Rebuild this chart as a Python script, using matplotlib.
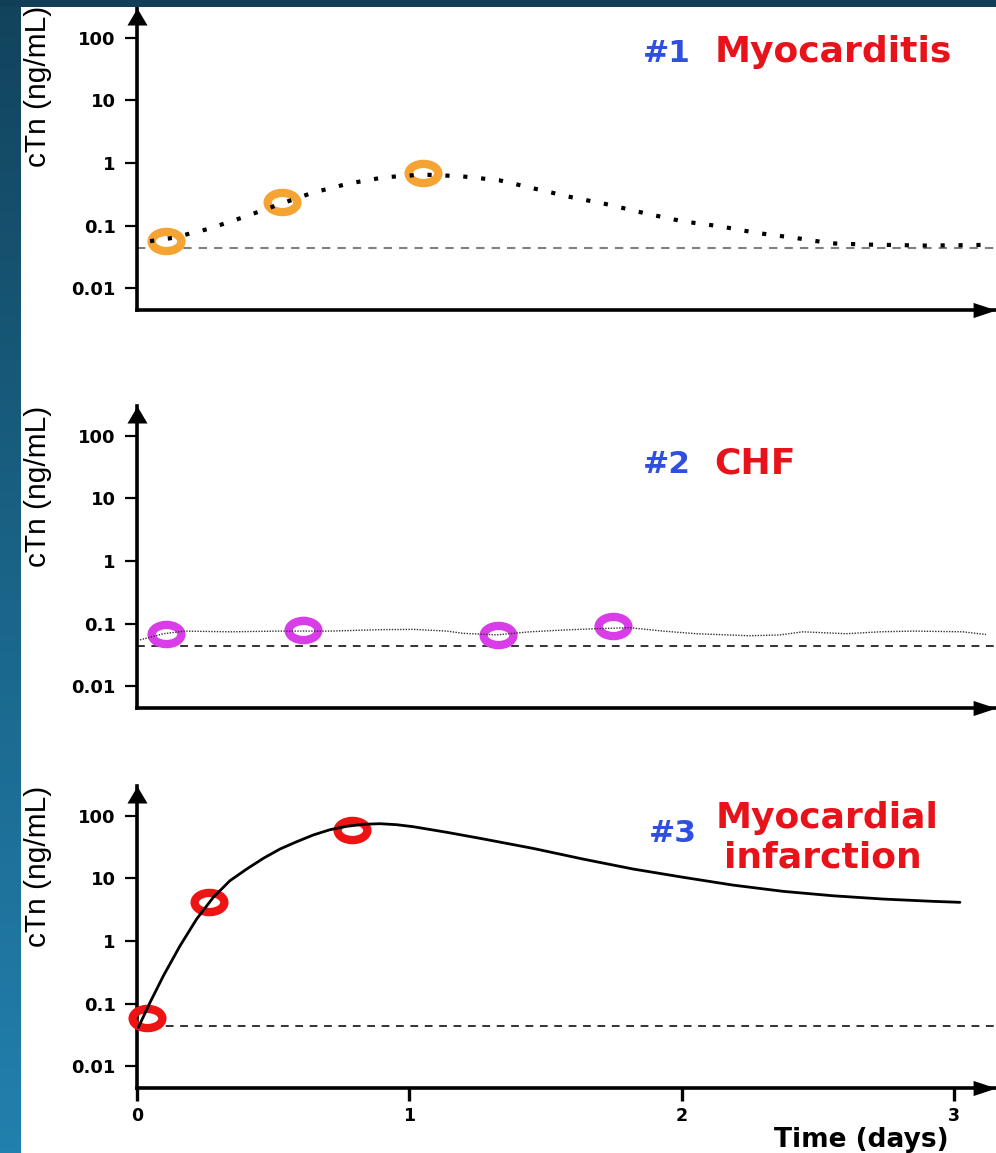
import matplotlib
matplotlib.use('Agg')
import matplotlib.pyplot as plt
import numpy as np
from matplotlib.path import Path
from matplotlib.transforms import Affine2D
from matplotlib.ticker import NullLocator, FixedLocator, FixedFormatter
from matplotlib.colors import LinearSegmentedColormap
from matplotlib.font_manager import FontProperties

# ---------------- data ----------------
y_ticks = [0.01, 0.1, 1, 10, 100]
y_tick_labels = ['0.01', '0.1', '1', '10', '100']
x_ticks = [0, 1, 2, 3]
x_tick_labels = ['0', '1', '2', '3']
upper_ref_limit = [0.044, 0.044, 0.044]

# Panel 1: myocarditis
myo_pts_x = [0.107, 0.532, 1.052]
myo_pts_y = [0.0576, 0.236, 0.695]
myo_line_x = [0.049, 0.132, 0.263, 0.391, 0.517, 0.644, 0.777, 0.909, 1.050,
              1.190, 1.330, 1.464, 1.597, 1.733, 1.869, 2.004, 2.141, 2.276,
              2.416, 2.550, 2.691, 2.900, 3.109]
myo_line_y = [0.0565, 0.0637, 0.0886, 0.136, 0.214, 0.333, 0.469, 0.591, 0.653,
              0.614, 0.530, 0.386, 0.283, 0.216, 0.156, 0.117, 0.0975, 0.0764,
              0.0637, 0.0521, 0.0497, 0.048, 0.0492]

# Panel 2: CHF
chf_pts_x = [0.108, 0.611, 1.327, 1.748]
chf_pts_y = [0.0693, 0.0793, 0.065, 0.0919]
chf_line_x = [0.012, 0.098, 0.177, 0.342, 0.526, 0.709, 0.893, 1.014, 1.138,
              1.197, 1.321, 1.443, 1.564, 1.685, 1.810, 1.931, 2.053, 2.250,
              2.361, 2.445, 2.603, 2.728, 2.849, 3.032, 3.117]
chf_line_y = [0.055, 0.069, 0.076, 0.074, 0.076, 0.076, 0.080, 0.081, 0.076,
              0.070, 0.066, 0.074, 0.079, 0.083, 0.086, 0.076, 0.069, 0.064,
              0.066, 0.074, 0.069, 0.074, 0.076, 0.074, 0.067]

# Panel 3: myocardial infarction
mi_pts_x = [0.039, 0.265, 0.791]
mi_pts_y = [0.059, 4.25, 59.7]
mi_line_x = [0.006, 0.049, 0.098, 0.159, 0.220, 0.281, 0.342, 0.404, 0.465,
             0.526, 0.587, 0.648, 0.709, 0.771, 0.832, 0.893, 0.954, 1.015,
             1.138, 1.260, 1.454, 1.638, 1.821, 2.005, 2.188, 2.372, 2.555,
             2.739, 2.923, 3.021]
mi_line_y = [0.0417, 0.1045, 0.278, 0.837, 2.24, 4.97, 9.16, 14.1, 20.9,
             29.4, 38.4, 49.2, 59.7, 67.7, 72.9, 74.5, 71.8, 66.7,
             54.3, 43.5, 30.1, 20.3, 14.1, 10.4, 7.8, 6.2, 5.27,
             4.67, 4.29, 4.14]

y_label = 'cTn (ng/mL)'
x_label = 'Time (days)'

# ---------------- layout ----------------
W, H = 996, 1153
fig = plt.figure(figsize=(W / 100, H / 100), dpi=100)
fig.patch.set_facecolor('white')


def fx(px):
    return px / W


def fy(py):
    return 1 - py / H


# left gradient band and top band
band = fig.add_axes([0, 0, fx(20), 1], zorder=-5)
grad = np.linspace(0, 1, 256).reshape(-1, 1)
cmap = LinearSegmentedColormap.from_list('band', ['#12435C', '#1A6488', '#2280AE'])
band.imshow(grad, aspect='auto', cmap=cmap, extent=[0, 1, 0, 1], origin='upper')
band.set_axis_off()
top = fig.add_axes([0, fy(7), 1, 7 / H], zorder=10)
top.set_facecolor('#123F57')
top.set_xticks([]); top.set_yticks([])
for s in top.spines.values():
    s.set_visible(False)

# arrow head markers (tip at origin)
up_arrow = Path([(0, 0), (-0.59, -1), (0.59, -1), (0, 0)],
                [Path.MOVETO, Path.LINETO, Path.LINETO, Path.CLOSEPOLY])
right_arrow = Path([(0, 0), (-1, 0.33), (-1, -0.33), (0, 0)],
                   [Path.MOVETO, Path.LINETO, Path.LINETO, Path.CLOSEPOLY])
ellipse = Path.unit_circle().transformed(Affine2D().scale(1.55, 1.0))

x0_px = 136.7
px_per_day = 272.5
ylo, yhi = 10 ** -2.347, 10 ** 2.474
axes_h_px = 302
bottoms_px = [310, 708, 1088]
ylabel_bottom_px = [167, 567, 947]

panels = [
    dict(px=myo_pts_x, py=myo_pts_y, lx=myo_line_x, ly=myo_line_y, color='#F5A332',
         ls=(0, (1, 3.3)), lw=3.0, lc='black', dash_c='#808080', dash_lw=1.5),
    dict(px=chf_pts_x, py=chf_pts_y, lx=chf_line_x, ly=chf_line_y, color='#D83DE8',
         ls=(0, (1, 1)), lw=1.0, lc='#333333', dash_c='#333333', dash_lw=1.4),
    dict(px=mi_pts_x, py=mi_pts_y, lx=mi_line_x, ly=mi_line_y, color='#EE1414',
         ls='-', lw=2.0, lc='black', dash_c='#333333', dash_lw=1.4),
]

tick_font = dict(family='DejaVu Sans', weight='bold', size=13)

for i, p in enumerate(panels):
    b = bottoms_px[i]
    ax = fig.add_axes([fx(x0_px), fy(b), 1 - fx(x0_px), axes_h_px / H])
    ax.set_facecolor('none')
    ax.set_yscale('log')
    ax.set_ylim(ylo, yhi)
    ax.set_xlim(0, (W - x0_px) / px_per_day)
    for s in ['top', 'right']:
        ax.spines[s].set_visible(False)
    for s in ['left', 'bottom']:
        ax.spines[s].set_linewidth(2.6)
        ax.spines[s].set_color('black')
    ax.yaxis.set_major_locator(FixedLocator(y_ticks))
    ax.yaxis.set_major_formatter(FixedFormatter(y_tick_labels))
    ax.yaxis.set_minor_locator(NullLocator())
    ax.tick_params(axis='y', length=8.6, width=1.6, pad=6.5, colors='black')
    for lab in ax.get_yticklabels():
        lab.set_fontproperties(FontProperties(**tick_font))
    if i == 2:
        ax.xaxis.set_major_locator(FixedLocator(x_ticks))
        ax.xaxis.set_major_formatter(FixedFormatter(x_tick_labels))
        ax.tick_params(axis='x', length=9, width=2.4, pad=5)
        for lab in ax.get_xticklabels():
            lab.set_fontproperties(FontProperties(family='DejaVu Sans',
                                                  weight='bold', size=12.5))
    else:
        ax.set_xticks([])
    ax.xaxis.set_minor_locator(NullLocator())

    # reference limit (dashed)
    ax.axhline(upper_ref_limit[i], color=p['dash_c'], lw=p['dash_lw'],
               ls=(0, (4.0, 3.4)), zorder=1)
    # circles
    ax.plot(p['px'], p['py'], ls='none', marker=ellipse, ms=21.4, mew=6,
            mfc='none', mec=p['color'], zorder=3, clip_on=False)
    # curve
    ax.plot(p['lx'], p['ly'], color=p['lc'], lw=p['lw'], ls=p['ls'], zorder=4,
            solid_joinstyle='round', solid_capstyle='round')
    # arrows
    ax.plot([0], [1], transform=ax.transAxes, marker=up_arrow, ms=24.5,
            color='black', mew=0, clip_on=False, zorder=5)
    ax.plot([1], [0], transform=ax.transAxes, marker=right_arrow, ms=33,
            color='black', mew=0, clip_on=False, zorder=5)

    # y label
    fig.text(fx(38), fy(ylabel_bottom_px[i]), y_label, rotation=90,
             ha='center', va='bottom', family='Liberation Sans', fontsize=21.5,
             color='black')

blue = '#2E4FE0'
red = '#E8121A'
title_bold = dict(family='DejaVu Sans', weight='bold')
fig.text(fx(691), fy(62), '#1', ha='right', va='baseline', color=blue, fontsize=22.5, **title_bold)
fig.text(fx(715), fy(62), 'Myocarditis', ha='left', va='baseline', color=red, fontsize=26, **title_bold)
fig.text(fx(691), fy(473), '#2', ha='right', va='baseline', color=blue, fontsize=22.5, **title_bold)
fig.text(fx(714), fy(473), 'CHF', ha='left', va='baseline', color=red, fontsize=26, **title_bold)
fig.text(fx(697), fy(842), '#3', ha='right', va='baseline', color=blue, fontsize=22.5, **title_bold)
fig.text(fx(827), fy(828), 'Myocardial', ha='center', va='baseline', color=red, fontsize=26, **title_bold)
fig.text(fx(823), fy(867), 'infarction', ha='center', va='baseline', color=red, fontsize=26, **title_bold)

fig.text(fx(861), fy(1127), x_label, ha='center', va='top', color='black',
         fontsize=19, **title_bold)

fig.savefig('out.png', dpi=100, facecolor='white')
